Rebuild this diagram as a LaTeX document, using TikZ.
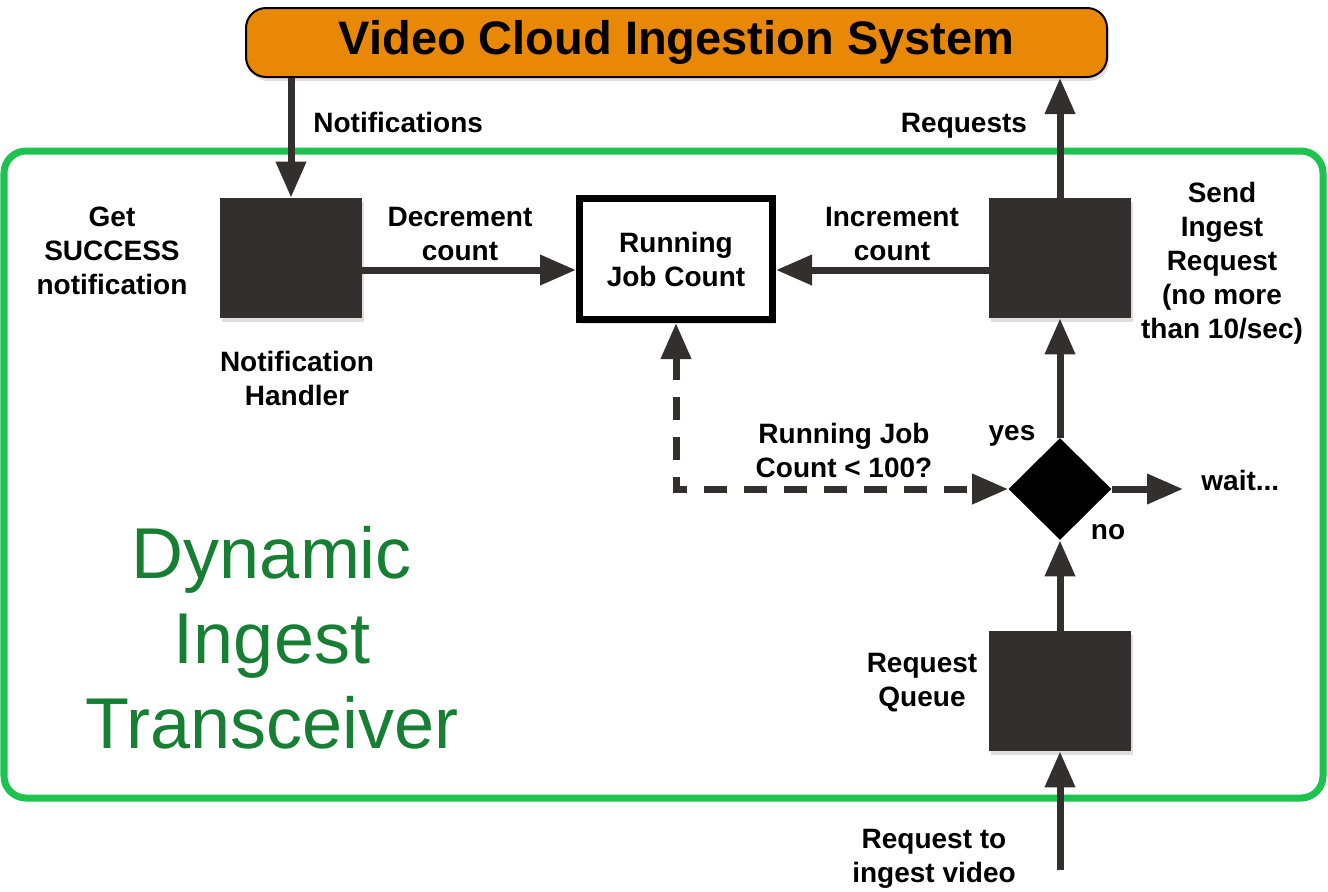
\documentclass[tikz,border=0pt]{standalone}
\usepackage{fontspec}
\setmainfont{Liberation Sans}
\usetikzlibrary{arrows.meta,positioning,shapes.geometric,shadows}
\definecolor{ingest}{HTML}{E98807}
\definecolor{ringgreen}{HTML}{1DC24F}
\definecolor{textgreen}{HTML}{167F33}
\definecolor{ink}{HTML}{332F2F}
\tikzset{
  box/.style={fill=ink, minimum width=71pt, minimum height=60pt, inner sep=0pt,
              drop shadow={opacity=.25, shadow xshift=1pt, shadow yshift=-2pt}},
  countbox/.style={draw=black, line width=3.5pt, fill=white, align=center,
              minimum width=96.5pt, minimum height=60.5pt, inner sep=0pt, font=\lbl,
              drop shadow={opacity=.25, shadow xshift=1pt, shadow yshift=-2pt}},
  titlebox/.style={draw=black, line width=1pt, fill=ingest, rounded corners=10pt,
              minimum width=430.5pt, minimum height=34.5pt, inner sep=0pt,
              font=\bfseries\fontsize{23.5}{28}\selectfont,
              drop shadow={opacity=.25, shadow xshift=1pt, shadow yshift=-2pt}},
  choice/.style={diamond, fill=black, minimum width=51.5pt, minimum height=51pt, inner sep=0pt},
  flow/.style={-{Triangle[length=18pt, width=14.5pt]}, line width=3.5pt, draw=ink},
  tag/.style={font=\lbl, align=center, inner sep=0pt},
}
\newcommand{\lbl}{\bfseries\fontsize{14}{17}\selectfont}

\begin{document}
\begin{tikzpicture}[x=0.5pt, y=-0.5pt]
    \useasboundingbox (0,0) rectangle (1328,891);
    % transceiver frame
    \draw[ringgreen, line width=3.5pt, rounded corners=11pt] (4,151) rectangle (1323,798);
    \node[font=\fontsize{36}{42.5}\selectfont, text=textgreen, align=center, inner sep=0pt]
      (dit) at (272,638) {Dynamic\\Ingest\\Transceiver};

    % nodes
    \node[titlebox] (ingest) at (676.5,42.5) {Video Cloud Ingestion System};
    \node[box] (handler) at (291,258) {};
    \node[countbox] (counter) at (676,259) {Running\\Job Count};
    \node[box] (sender) at (1060,258) {};
    \node[choice] (decision) at (1060,489) {};
    \node[box] (queue) at (1060,691) {};
    \coordinate (src) at (1060,870);
    \coordinate (hold) at (1183,489);

    % connectors
    \draw[flow] (handler.north |- ingest.south) -- (handler.north);
    \draw[flow] (sender.north) -- (sender.north |- ingest.south);
    \draw[flow] ([yshift=-6pt]handler.east) -- ([yshift=-6pt]handler.east -| counter.west);
    \draw[flow] ([yshift=-6pt]sender.west) -- ([yshift=-6pt]sender.west -| counter.east);
    \draw[flow] (decision.north) -- (sender.south);
    \draw[flow] (queue.north) -- (decision.south);
    \draw[flow] (src) -- (queue.south);
    \draw[flow] (decision.east) -- (hold);
    \draw[flow, {Triangle[length=18pt, width=14.5pt]}-{Triangle[length=18pt, width=14.5pt]},
          dash pattern=on 11.5pt off 8.5pt] (counter.south) |- (decision.west);

    % labels
    \node[tag, anchor=base west] (lnotify) at (313,132) {Notifications};
    \node[tag, anchor=base] (lrequests) at (964,132) {Requests};
    \node[tag] (lget) at (112,251) {Get\\SUCCESS\\notification};
    \node[tag] (lhandler) at (297,378) {Notification\\Handler};
    \node[tag] (ldec) at (460,234) {Decrement\\count};
    \node[tag] (linc) at (892,234) {Increment\\count};
    \node[tag] (lsend) at (1222,263) {Send\\Ingest\\Request\\(no more\\than 10/sec)};
    \node[tag] (ltest) at (844,450) {Running Job\\Count < 100?};
    \node[tag, anchor=base] (lyes) at (1012,440) {yes};
    \node[tag, anchor=base] (lno) at (1108,539) {no};
    \node[tag, anchor=base west] (lwait) at (1201,490) {wait...};
    \node[tag] (lqueue) at (922,683) {Request\\Queue};
    \node[tag] (lsrc) at (934,859) {Request to\\ingest video};
  \end{tikzpicture}
\end{document}
